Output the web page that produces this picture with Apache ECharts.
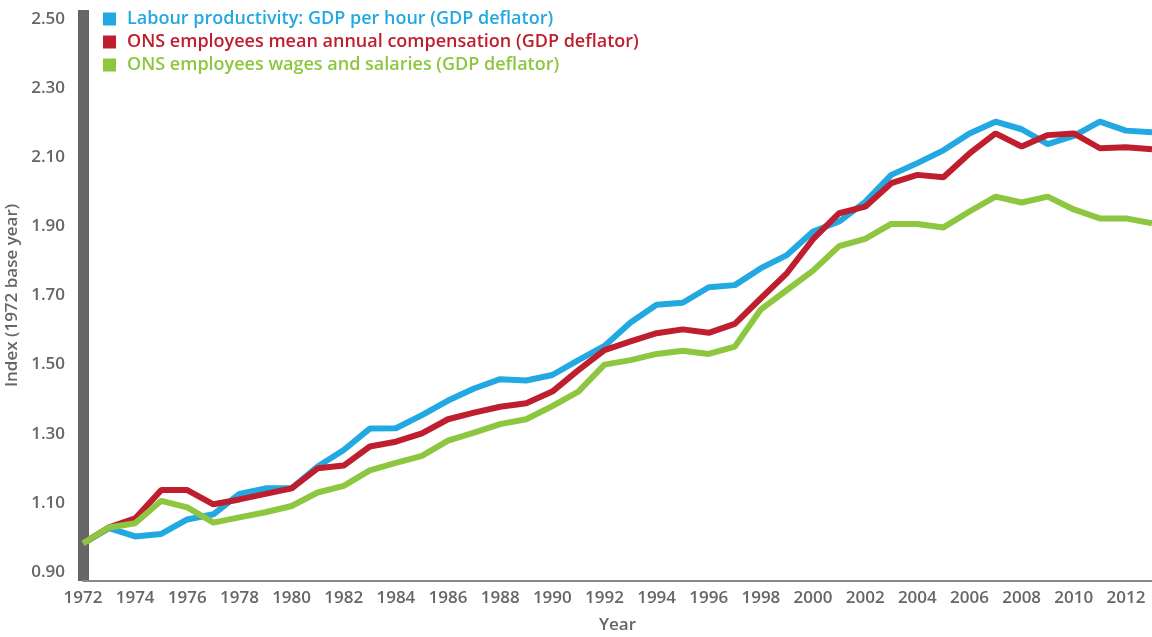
<!DOCTYPE html>
<html>
<head>
<meta charset="utf-8">
<script src="https://cdn.jsdelivr.net/npm/echarts@6/dist/echarts.min.js"></script>
<style>
  html, body { margin: 0; padding: 0; background: #fff; }
  #chart { width: 1152px; height: 637px; }
</style>
</head>
<body>
<div id="chart"></div>
<script>
// years on the x axis
const years = [
  '1972', '1973', '1974', '1975', '1976', '1977', '1978', '1979', '1980', '1981',
  '1982', '1983', '1984', '1985', '1986', '1987', '1988', '1989', '1990', '1991',
  '1992', '1993', '1994', '1995', '1996', '1997', '1998', '1999', '2000', '2001',
  '2002', '2003', '2004', '2005', '2006', '2007', '2008', '2009', '2010', '2011',
  '2012', '2013'
];

// Labour productivity: GDP per hour
const productivity = [
  0.983, 1.027, 1.003, 1.010, 1.052, 1.067, 1.126, 1.142, 1.142, 1.205,
  1.253, 1.315, 1.316, 1.354, 1.396, 1.431, 1.458, 1.454, 1.470, 1.513,
  1.554, 1.622, 1.673, 1.679, 1.724, 1.730, 1.779, 1.817, 1.885, 1.914,
  1.971, 2.049, 2.083, 2.120, 2.169, 2.203, 2.181, 2.138, 2.162, 2.203,
  2.177, 2.172
];

// mean annual compensation
const compensation = [
  0.983, 1.029, 1.055, 1.137, 1.137, 1.096, 1.110, 1.126, 1.142, 1.200,
  1.208, 1.263, 1.277, 1.301, 1.342, 1.361, 1.378, 1.388, 1.422, 1.484,
  1.542, 1.567, 1.591, 1.602, 1.592, 1.618, 1.692, 1.765, 1.863, 1.938,
  1.957, 2.025, 2.049, 2.042, 2.111, 2.169, 2.131, 2.164, 2.169, 2.126,
  2.129, 2.123
];

// wages and salaries
const wages = [
  0.983, 1.029, 1.041, 1.106, 1.087, 1.043, 1.058, 1.073, 1.091, 1.130,
  1.149, 1.194, 1.216, 1.236, 1.280, 1.303, 1.328, 1.342, 1.380, 1.422,
  1.500, 1.513, 1.531, 1.540, 1.531, 1.552, 1.660, 1.716, 1.772, 1.843,
  1.864, 1.907, 1.907, 1.897, 1.943, 1.986, 1.969, 1.986, 1.949, 1.923,
  1.923, 1.909
];

const yTicks = [0.9, 1.1, 1.3, 1.5, 1.7, 1.9, 2.1, 2.3, 2.5];

const names = [
  'Labour productivity: GDP per hour (GDP deflator)',
  'ONS employees mean annual compensation (GDP deflator)',
  'ONS employees wages and salaries (GDP deflator)'
];
const colors = ['#22a9e1', '#be1e2d', '#8dc63f'];
const font = '"Open Sans", "Noto Sans", sans-serif';

const chart = echarts.init(document.getElementById('chart'));
chart.setOption({
  animation: false,
  color: colors,
  grid: { left: 83, right: 0, top: 10, bottom: 56, outerBoundsMode: 'none' },
  legend: {
    orient: 'vertical',
    left: 103,
    top: 9,
    padding: 0,
    icon: 'rect',
    itemWidth: 13,
    itemHeight: 13,
    itemGap: 3,
    textStyle: { fontFamily: font, fontSize: 18, fontWeight: 600, lineHeight: 20, padding: [0, 0, 0, 6] },
    data: names.map((n, i) => ({ name: n, textStyle: { color: colors[i] } }))
  },
  xAxis: {
    type: 'category',
    data: years,
    boundaryGap: false,
    name: 'Year',
    nameLocation: 'middle',
    nameGap: 36,
    nameTextStyle: { color: '#666', fontFamily: font, fontSize: 17, fontWeight: 600 },
    axisLine: { lineStyle: { color: '#888', width: 2 } },
    axisTick: { show: false },
    axisLabel: {
      interval: 1,
      margin: 9,
      color: '#666',
      fontFamily: font,
      fontSize: 17,
      fontWeight: 600
    },
    splitLine: { show: false }
  },
  yAxis: {
    type: 'value',
    min: 0.874,
    max: 2.526,
    name: 'Index (1972 base year)',
    nameLocation: 'middle',
    nameGap: 60,
    nameTextStyle: { color: '#666', fontFamily: font, fontSize: 17, fontWeight: 600 },
    axisLine: { show: true, lineStyle: { color: '#666', width: 11, cap: 'butt' } },
    axisTick: { show: false },
    splitLine: { show: false },
    axisLabel: {
      customValues: yTicks,
      margin: 18,
      color: '#666',
      fontFamily: font,
      fontSize: 17,
      fontWeight: 600,
      formatter: v => v.toFixed(2)
    }
  },
  series: [
    { name: names[0], type: 'line', data: productivity, showSymbol: false, lineStyle: { width: 6, color: colors[0] } },
    { name: names[1], type: 'line', data: compensation, showSymbol: false, lineStyle: { width: 6, color: colors[1] } },
    { name: names[2], type: 'line', data: wages, showSymbol: false, lineStyle: { width: 6, color: colors[2] } }
  ]
});
</script>
</body>
</html>
